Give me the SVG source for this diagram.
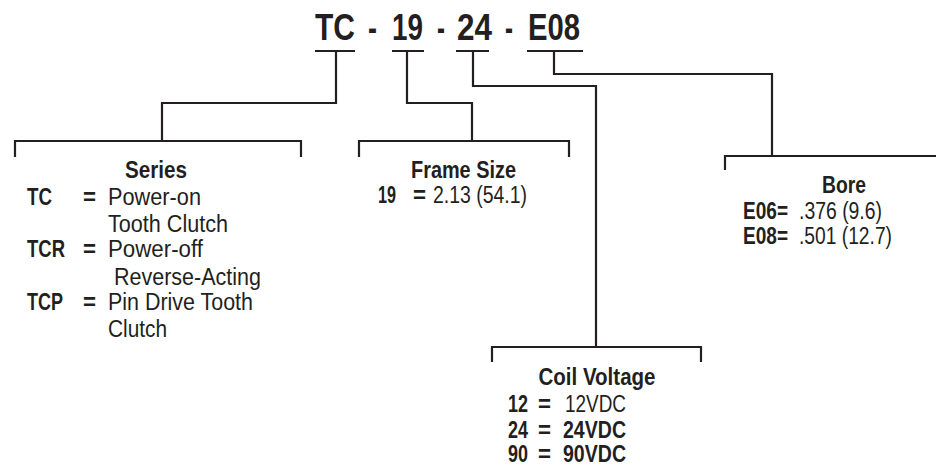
<svg xmlns="http://www.w3.org/2000/svg" width="936" height="465" viewBox="0 0 936 465">
<style>
text{font-family:"Liberation Sans",Arial,sans-serif;fill:#231f20}
.t{font-size:37px;font-weight:bold}
.h{font-size:23px;font-weight:bold;text-anchor:middle}
.b{font-size:23px;font-weight:bold}
.n{font-size:23px}
.ln{fill:none;stroke:#231f20;stroke-width:2.2}
</style>
<rect width="936" height="465" fill="#fff"/>
<g id="title">
<text class="t" x="315" y="40" textLength="40" lengthAdjust="spacingAndGlyphs">TC</text>
<text class="t" x="368" y="40" textLength="9" lengthAdjust="spacingAndGlyphs">-</text>
<text class="t" x="392" y="40" textLength="31" lengthAdjust="spacingAndGlyphs">19</text>
<text class="t" x="437" y="40" textLength="8" lengthAdjust="spacingAndGlyphs">-</text>
<text class="t" x="457" y="40" textLength="35" lengthAdjust="spacingAndGlyphs">24</text>
<text class="t" x="505" y="40" textLength="8" lengthAdjust="spacingAndGlyphs">-</text>
<text class="t" x="528" y="40" textLength="52" lengthAdjust="spacingAndGlyphs">E08</text>
</g>
<g id="connectors">
<path class="ln" d="M315,51H355M392,51H424M456,51H489M527,51H583"/>
<path class="ln" d="M336,51V103H162V141"/>
<path class="ln" d="M407,51V103H472V141"/>
<path class="ln" d="M473,51V86H596V347"/>
<path class="ln" d="M554,51V74H772V156"/>
</g>
<g id="series">
<path class="ln" d="M15,157V141H301V157"/>
<text class="h" x="156" y="178" textLength="62" lengthAdjust="spacingAndGlyphs">Series</text>
<text class="b" x="27" y="205" textLength="25" lengthAdjust="spacingAndGlyphs">TC</text>
<text class="b" x="83" y="205" textLength="13" lengthAdjust="spacingAndGlyphs">=</text>
<text class="n" x="108" y="205" textLength="93" lengthAdjust="spacingAndGlyphs">Power-on</text>
<text class="n" x="108" y="232" textLength="120" lengthAdjust="spacingAndGlyphs">Tooth Clutch</text>
<text class="b" x="27" y="257" textLength="38" lengthAdjust="spacingAndGlyphs">TCR</text>
<text class="b" x="83" y="257" textLength="13" lengthAdjust="spacingAndGlyphs">=</text>
<text class="n" x="108" y="257" textLength="95" lengthAdjust="spacingAndGlyphs">Power-off</text>
<text class="n" x="114" y="285" textLength="147" lengthAdjust="spacingAndGlyphs">Reverse-Acting</text>
<text class="b" x="27" y="310" textLength="36" lengthAdjust="spacingAndGlyphs">TCP</text>
<text class="b" x="83" y="310" textLength="13" lengthAdjust="spacingAndGlyphs">=</text>
<text class="n" x="108" y="310" textLength="145" lengthAdjust="spacingAndGlyphs">Pin Drive Tooth</text>
<text class="n" x="108" y="337" textLength="59" lengthAdjust="spacingAndGlyphs">Clutch</text>
</g>
<g id="frame-size">
<path class="ln" d="M359,157V141H569V157"/>
<text class="h" x="463.5" y="178" textLength="105" lengthAdjust="spacingAndGlyphs">Frame Size</text>
<text class="b" x="378" y="203" textLength="18" lengthAdjust="spacingAndGlyphs">19</text>
<text class="b" x="413" y="203" textLength="13" lengthAdjust="spacingAndGlyphs">=</text>
<text class="n" x="433" y="203" textLength="94" lengthAdjust="spacingAndGlyphs">2.13 (54.1)</text>
</g>
<g id="bore">
<path class="ln" d="M725,170V156H936"/>
<text class="h" x="844" y="193" textLength="44" lengthAdjust="spacingAndGlyphs">Bore</text>
<text class="b" x="743" y="219" textLength="45" lengthAdjust="spacingAndGlyphs">E06=</text>
<text class="n" x="799" y="219" textLength="83" lengthAdjust="spacingAndGlyphs">.376 (9.6)</text>
<text class="b" x="743" y="244" textLength="45" lengthAdjust="spacingAndGlyphs">E08=</text>
<text class="n" x="799" y="244" textLength="93" lengthAdjust="spacingAndGlyphs">.501 (12.7)</text>
</g>
<g id="coil-voltage">
<path class="ln" d="M492,362V347H701V362"/>
<text class="h" x="597" y="385" textLength="117" lengthAdjust="spacingAndGlyphs">Coil Voltage</text>
<text class="b" x="508" y="412" textLength="20" lengthAdjust="spacingAndGlyphs">12</text>
<text class="b" x="538" y="412" textLength="13" lengthAdjust="spacingAndGlyphs">=</text>
<text class="n" x="565" y="412" textLength="61" lengthAdjust="spacingAndGlyphs">12VDC</text>
<text class="b" x="508" y="438" textLength="20" lengthAdjust="spacingAndGlyphs">24</text>
<text class="b" x="538" y="438" textLength="13" lengthAdjust="spacingAndGlyphs">=</text>
<text class="b" x="563" y="438" textLength="63" lengthAdjust="spacingAndGlyphs">24VDC</text>
<text class="b" x="508" y="462" textLength="20" lengthAdjust="spacingAndGlyphs">90</text>
<text class="b" x="538" y="462" textLength="13" lengthAdjust="spacingAndGlyphs">=</text>
<text class="b" x="563" y="462" textLength="63" lengthAdjust="spacingAndGlyphs">90VDC</text>
</g>
</svg>
